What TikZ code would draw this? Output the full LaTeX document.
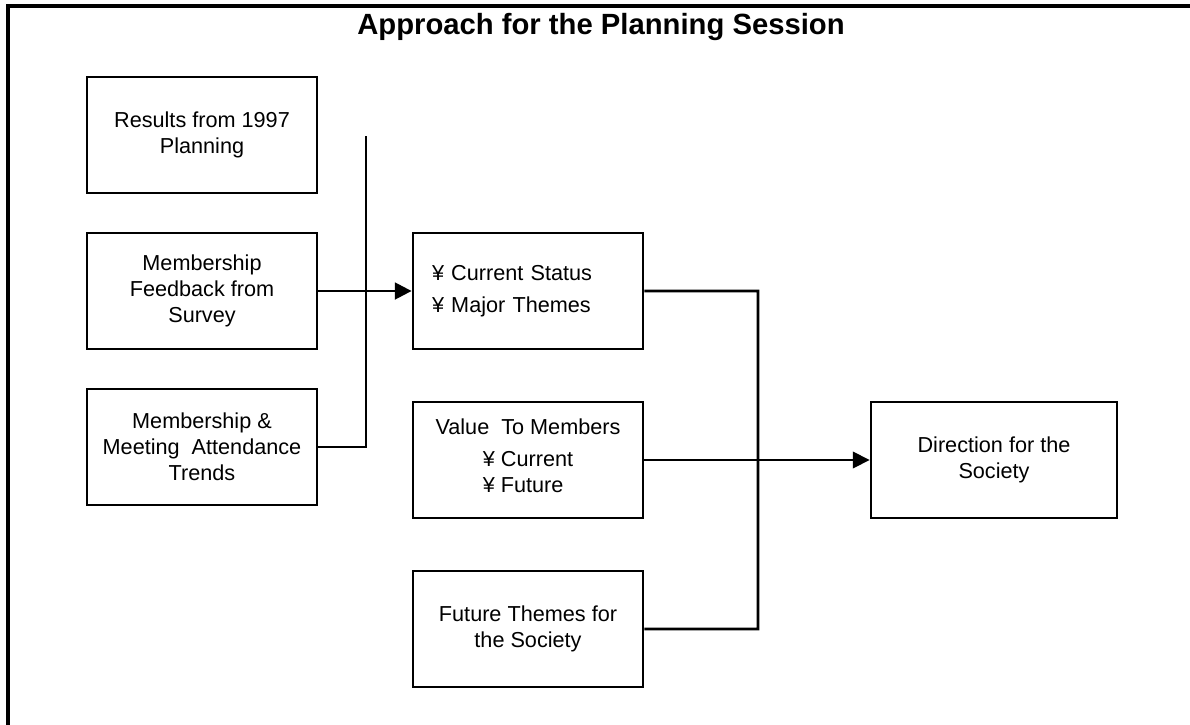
\documentclass[tikz,border=0pt]{standalone}
\usepackage{fontspec}
\setmainfont{Liberation Sans}
\usepackage{tikz}
\usetikzlibrary{arrows.meta}
\usetikzlibrary{positioning}

\begin{document}
\begin{tikzpicture}[->,>={Triangle[length=0.42cm,width=0.42cm]},line width=1.8pt,
                    node distance=3.9cm,
                    main node/.style={rectangle,draw,line width=2pt,minimum width=5.75cm,
                      minimum height=2.9cm,align=center,font=\fontsize{15.4}{18.5}\selectfont}]

\useasboundingbox (0,0) rectangle (29.75,-18.125);
\draw[-,line width=2.2pt] (0.2,-18.125) -- (0.2,-0.15) -- (29.75,-0.15);

\node (title) at (15.025,-0.85) [anchor=base,font=\fontsize{20.8}{24}\selectfont\bfseries]
  {Approach for the Planning Session};

\node[main node] (res) at (5.05,-3.375) {Results from 1997\\Planning};
\node[main node] (fb) [below of=res] {Membership\\Feedback from\\Survey};
\node[main node] (trd) [below of=fb] {Membership \&\\Meeting~~Attendance\\Trends};

\node[main node] (cur) [right of=fb, node distance=8.15cm, text width=4.8cm,
  inner xsep=0.475cm, align=left] {¥ Current Status\\[0.15cm]¥ Major Themes};
\node[main node] (val) [below of=cur, node distance=4.225cm]
  {Value~~To Members\\[0.15cm]\begin{tabular}[t]{@{}l@{}}¥ Current\\¥ Future\end{tabular}};
\node[main node] (fut) [below of=val, node distance=4.225cm] {Future Themes for\\the Society};
\node[main node] (dir) [right of=val, node distance=11.65cm, minimum width=6.15cm]
  {Direction for the\\Society};

\coordinate (bustop) at (9.15,-3.425);
\coordinate (merge) at (18.95,-15.725);

  \path
    (fb.east) edge node {} (cur.west)
    (val.east) edge [line width=0.9pt] node {} (dir.west);
  \draw[-,line cap=rect] (trd.east) -| (bustop);
  \draw[-] (cur.east) -| (merge) -- (fut.east);
\end{tikzpicture}
\end{document}
